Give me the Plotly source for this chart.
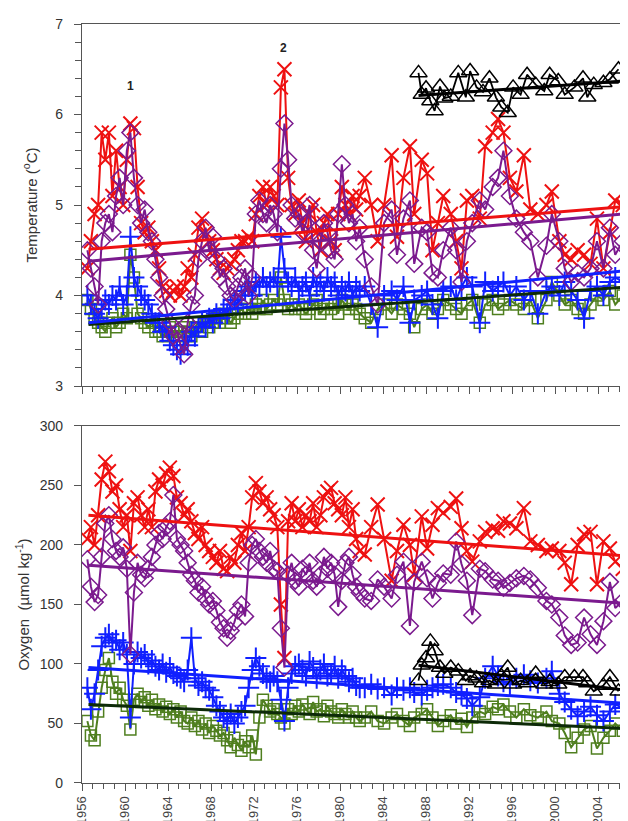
import plotly.graph_objects as go

# ---------------- data ----------------
years_dense = [1956.5, 1956.83,
    1957.17, 1957.5, 1957.83, 1958.17, 1958.5, 1958.83, 1959.17, 1959.5, 1959.83,
    1960.17, 1960.5, 1960.83, 1961.17, 1961.5, 1961.83, 1962.17, 1962.5, 1962.83,
    1963.17, 1963.5, 1963.83, 1964.17, 1964.5, 1964.83, 1965.17, 1965.5, 1965.83,
    1966.17, 1966.5, 1966.83, 1967.17, 1967.5, 1967.83, 1968.17, 1968.5, 1968.83,
    1969.17, 1969.5, 1969.83, 1970.17, 1970.5, 1970.83, 1971.17, 1971.5, 1971.83,
    1972.17, 1972.5, 1972.83, 1973.17, 1973.5, 1973.83, 1974.17, 1974.5, 1974.83,
    1975.17, 1975.5, 1975.83, 1976.17, 1976.5, 1976.83, 1977.17, 1977.5, 1977.83,
    1978.17, 1978.5, 1978.83, 1979.17, 1979.5, 1979.83, 1980.17, 1980.5, 1980.83,
    1981.17, 1981.5, 1981.83]
years_late = [1982.3, 1982.9, 1983.5, 1984.1, 1984.8, 1985.3, 1985.9, 1986.5, 1986.9,
    1987.6, 1988.1, 1988.6, 1989.1, 1989.6, 1990.3, 1990.8, 1991.3, 1991.8, 1992.3,
    1993.0, 1993.5, 1994.2, 1994.7, 1995.2, 1995.8, 1996.4, 1997.1, 1997.7, 1998.4,
    1999.2, 1999.7, 2000.4, 2000.9, 2001.5, 2002.1, 2002.7, 2003.3, 2003.9, 2004.5,
    2005.1, 2005.6, 2006.3]
years = years_dense + years_late

temp_red = [4.3, 4.6,
    4.9, 5.0, 5.8, 5.5, 5.8, 5.1, 5.6, 5.2, 5.0,
    5.5, 5.9, 5.85, 5.2, 4.8, 4.7, 4.75, 4.6, 4.5,
    4.3, 4.1, 4.05, 4.0, 4.05, 4.1, 4.0, 4.1, 4.3,
    4.2, 4.45, 4.75, 4.85, 4.7, 4.6, 4.5, 4.4, 4.3,
    4.25, 4.3, 4.35, 4.4, 4.5, 4.6, 4.6, 4.65, 4.6,
    4.9, 5.1, 5.2, 5.0, 5.2, 5.1, 5.0, 6.3, 6.5,
    5.3, 5.0, 4.9, 5.05, 4.8, 4.6, 4.9, 5.0, 4.7,
    4.5, 4.8, 4.9, 4.6, 4.5, 4.9, 5.2, 5.0, 4.9,
    5.1, 4.95, 5.1,
    5.3, 5.0, 4.6, 5.0, 5.55, 4.65, 5.3, 5.65, 4.9,
    5.5, 5.35, 4.5, 4.8, 5.1, 4.9, 4.6, 4.3, 5.05, 5.1,
    4.85, 5.65, 5.8, 5.95, 5.8, 5.3, 5.15, 5.55, 4.95, 4.9,
    5.0, 5.15, 4.6, 4.45, 4.4, 4.5, 4.45, 4.35, 4.85, 4.3,
    4.7, 5.05, 5.0]
temp_purple = [4.5, 4.3,
    4.1, 3.9, 4.6, 4.8, 4.9, 4.7, 5.1, 5.3, 5.0,
    5.6, 5.8, 5.3, 5.0, 4.8, 4.95, 4.7, 4.6, 4.4,
    4.2, 4.0, 3.85, 3.7, 3.55, 3.6, 3.45, 3.35, 3.7,
    3.9, 4.0, 4.4, 4.6, 4.75, 4.5, 4.65, 4.4, 4.2,
    4.3, 4.1, 4.0, 3.95, 4.1, 4.2, 4.3, 4.0, 4.2,
    4.9, 5.05, 4.9, 4.8, 5.0, 4.9, 4.7, 5.4, 5.9,
    5.5, 5.0, 4.85, 4.9, 4.7, 4.8, 5.0, 4.5, 4.3,
    4.6, 4.8, 4.7, 4.5, 4.4, 4.9, 5.45, 5.0, 4.8,
    4.9, 4.6, 4.75,
    4.4, 4.1, 3.9, 4.8, 4.95, 4.45, 4.85, 5.05, 4.35,
    4.75, 4.7, 4.25, 4.2, 4.5, 4.75, 4.5, 4.15, 4.6, 4.8,
    5.05, 4.95, 5.2, 5.3, 5.6, 5.1, 4.85, 4.7, 4.6, 4.2,
    4.55, 4.9, 4.6, 4.3, 4.15, 4.25, 4.2, 4.3, 4.6, 4.3,
    4.75, 4.45, 4.6]
temp_blue = [4.0, 3.9,
    3.8, 3.75, 3.85, 3.95, 3.9, 4.0, 3.95, 4.1, 3.9,
    4.0, 4.65, 4.2, 4.1, 4.0, 3.95, 3.9, 3.8, 3.7,
    3.7, 3.6, 3.65, 3.5, 3.45, 3.4, 3.35, 3.5, 3.45,
    3.6, 3.55, 3.65, 3.7, 3.65, 3.75, 3.7, 3.8, 3.75,
    3.85, 3.8, 3.9, 3.95, 3.9, 4.0, 4.05, 4.1, 4.0,
    4.15, 4.1, 4.2, 4.1, 4.15, 4.2, 4.1, 4.65, 4.3,
    4.15, 4.1, 4.2, 4.05, 4.1, 4.15, 4.0, 4.2, 4.1,
    4.15, 4.05, 4.2, 4.1, 4.15, 4.0, 4.1, 4.05, 4.15,
    4.0, 4.1, 4.05,
    4.1, 3.9, 3.65, 4.0, 4.05, 3.95, 4.1, 3.7, 3.95,
    4.0, 4.05, 3.9, 3.75, 4.05, 4.1, 3.95, 4.1, 4.2, 4.1,
    3.7, 4.15, 4.05, 4.1, 4.15, 4.0, 4.1, 3.95, 4.05, 3.8,
    4.05, 4.1, 4.0, 4.15, 4.05, 3.95, 3.75, 4.05, 4.1, 4.0,
    4.15, 4.2, 4.15]
temp_green = [3.95, 3.85,
    3.75, 3.7, 3.65, 3.6, 3.7, 3.75, 3.65, 3.7, 3.8,
    3.75, 4.45, 4.2, 3.8, 3.75, 3.7, 3.65, 3.7, 3.6,
    3.6, 3.55, 3.6, 3.65, 3.6, 3.55, 3.6, 3.65, 3.6,
    3.55, 3.65, 3.7, 3.6, 3.7, 3.65, 3.7, 3.75, 3.7,
    3.8, 3.75, 3.7, 3.75, 3.8, 3.85, 3.8, 3.85, 3.8,
    3.9, 3.85, 3.95, 3.85, 3.9, 3.95, 3.9, 4.2, 3.95,
    3.85, 3.9, 3.85, 3.9, 3.85, 3.8, 3.85, 3.9, 3.95,
    3.8, 3.85, 3.9, 3.85, 3.9, 3.8, 3.95, 3.9, 3.85,
    3.9, 3.85, 3.8,
    3.75, 3.7, 3.85, 3.9, 3.8, 3.9, 3.85, 3.8, 3.65,
    3.85, 3.9, 3.8, 3.85, 3.95, 3.9, 3.85, 3.8, 3.9, 3.95,
    3.7, 3.9, 3.95, 3.85, 3.9, 3.95, 3.9, 3.85, 3.95, 3.75,
    3.95, 4.15, 4.0, 3.9, 3.95, 3.85, 3.8, 3.9, 4.0, 3.95,
    4.05, 3.9, 4.0]

oxy_red = [205, 215,
    200, 225, 255, 270, 262, 245, 250, 230, 215,
    225, 195, 235, 240, 225, 215, 230, 215, 245,
    255, 250, 260, 265, 258, 240, 235, 225, 230,
    220, 210, 205, 215, 200, 195, 190, 185, 195,
    180, 178, 190, 185, 200, 210, 195, 215, 240,
    252, 245, 235, 240, 230, 225, 215, 150, 105,
    220, 235, 220, 230, 215, 225, 220, 235, 215,
    225, 240, 245, 248, 235, 230, 225, 240, 215,
    230, 205, 195,
    192, 215, 234, 205, 170, 195, 217, 200, 175,
    224, 197, 217, 231, 227, 232, 239, 214, 195, 186,
    203, 211, 214, 212, 220, 218, 214, 231, 203, 200,
    195, 197, 195, 185, 167, 200, 209, 211, 167, 203,
    197, 186, 180]
oxy_purple = [188, 165,
    152, 158, 190, 218, 225, 205, 195, 190, 198,
    180, 108, 160, 185, 175, 172, 180, 190, 200,
    210, 205, 215, 220, 242, 205, 200, 195, 185,
    175, 170, 160, 165, 155, 150, 153, 145, 135,
    130, 122, 128, 135, 145, 150, 140, 185, 200,
    205, 195, 190, 185, 195, 180, 178, 130, 97,
    175, 185, 170, 165, 180, 175, 185, 170, 165,
    175, 190, 180, 185, 175, 148, 170, 185, 190,
    175, 165, 160,
    155, 153, 171, 165, 155, 175, 186, 132, 169,
    186, 172, 155, 168, 176, 175, 203, 184, 170, 141,
    180, 178, 171, 170, 164, 168, 172, 174, 171, 164,
    153, 150, 139, 124, 116, 118, 139, 125, 116, 136,
    169, 147, 153]
oxy_blue = [80, 62,
    75, 95, 115, 122, 125, 118, 120, 112, 118,
    108, 55, 100, 110, 105, 108, 100, 103, 98,
    95, 100, 93, 97, 92, 90, 88, 85, 95,
    122, 88, 82, 85, 80, 78, 72, 65, 60,
    55, 52, 58, 50, 55, 60, 65, 80, 95,
    105, 98, 92, 88, 85, 90, 85, 70, 52,
    80, 92, 98, 100, 95, 90, 102, 97, 88,
    95, 100, 90, 92, 98, 88, 95, 90, 85,
    88, 82, 80,
    80, 83, 79, 80, 74, 80, 78, 80, 76,
    74, 78, 80, 82, 83, 80, 76, 74, 71, 65,
    72, 88, 98, 90, 85, 83, 88, 91, 86, 84,
    88, 94, 75, 68, 62, 56, 60, 64, 57, 52,
    60, 66, 63]
oxy_green = [52, 40,
    36, 60, 80, 95, 105, 85, 75, 80, 70,
    65, 45, 70, 75, 68, 72, 65, 70, 62,
    66, 60, 64, 58, 62, 55, 60, 52, 50,
    55, 48, 52, 45, 50, 42, 48, 44, 40,
    42, 36, 30, 38, 32, 27, 35, 30, 40,
    24, 55, 70, 65, 60, 62, 58, 55, 50,
    62, 58, 65, 60, 66, 62, 58, 68, 60,
    62, 56, 65, 60, 58, 55, 62, 58, 55,
    60, 55, 52,
    55, 60, 52, 50, 55, 58, 52, 48, 55,
    58, 62, 55, 48, 52, 57, 50, 54, 47, 55,
    60, 58, 64, 62, 66, 60, 55, 62, 57, 55,
    60, 52, 50, 42, 30, 38, 45, 48, 29, 38,
    44, 50, 44]

years_black = [1987.3, 1987.6, 1988.0, 1988.4, 1988.8, 1989.3, 1989.7, 1990.3, 1991.0,
    1991.7, 1992.1, 1992.7, 1993.3, 1993.9, 1994.5, 1995.0, 1995.6, 1996.1, 1996.8,
    1997.4, 1998.2, 1999.0, 1999.5, 2000.3, 2000.9, 2001.8, 2002.6, 2003.0, 2003.6,
    2004.5, 2005.1, 2005.9]
temp_black = [6.46, 6.22, 6.29, 6.15, 6.04, 6.31, 6.18, 6.2, 6.46, 6.19, 6.48, 6.3,
    6.25, 6.4, 6.19, 6.08, 6.02, 6.3, 6.22, 6.44, 6.33, 6.26, 6.44, 6.37, 6.22, 6.3,
    6.4, 6.19, 6.33, 6.35, 6.39, 6.5]
oxy_black = [86, 99, 105, 119, 111, 97, 92, 97, 94, 86, 90, 88, 84, 86, 83, 90, 97,
    83, 86, 84, 92, 83, 85, 83, 89, 89, 89, 84, 77, 82, 89, 77]

# trend lines (start, end)
trend_years = [1956.6, 2006.3]
trend_years_black = [1987.3, 2006.5]
trend_temp_red = [4.51, 4.98]
trend_temp_purple = [4.38, 4.90]
trend_temp_blue = [3.70, 4.27]
trend_temp_green = [3.68, 4.09]
trend_temp_black = [6.21, 6.37]
trend_oxy_red = [225, 191]
trend_oxy_purple = [183, 151]
trend_oxy_blue = [97, 67]
trend_oxy_green = [66, 46]
trend_oxy_black = [99, 78]

x_tick_years = [1956, 1960, 1964, 1968, 1972, 1976, 1980, 1984, 1988, 1992, 1996, 2000, 2004]

# ---------------- styles ----------------
RED = "#ee1111"
PURPLE = "#7b1a8e"
BLUE = "#1020ff"
GREEN = "#4f7f1f"
BLACK = "#000000"
GTREND = "#0d2a08"

fig = go.Figure()

def add_series(x, y, color, symbol, size, yaxis, lw=2.0, mlw=1.5):
    fig.add_trace(go.Scatter(
        x=x, y=y, mode="lines+markers", xaxis="x" if yaxis == "y" else "x2", yaxis=yaxis,
        line=dict(color=color, width=lw),
        marker=dict(symbol=symbol, size=size, color=color,
                    line=dict(color=color, width=mlw)),
        showlegend=False, hoverinfo="skip"))

def add_trend(x, y, color, yaxis):
    fig.add_trace(go.Scatter(
        x=x, y=y, mode="lines", xaxis="x" if yaxis == "y" else "x2", yaxis=yaxis,
        line=dict(color=color, width=3), showlegend=False, hoverinfo="skip"))

for yax, vals, black_vals, trends, black_trend in [
    ("y", [temp_green, temp_blue, temp_red, temp_purple], temp_black,
     [trend_temp_green, trend_temp_blue, trend_temp_red, trend_temp_purple], trend_temp_black),
    ("y2", [oxy_green, oxy_blue, oxy_red, oxy_purple], oxy_black,
     [trend_oxy_green, trend_oxy_blue, trend_oxy_red, trend_oxy_purple], trend_oxy_black),
]:
    add_series(years, vals[0], GREEN, "square-open", 11, yax)
    add_series(years, vals[1], BLUE, "cross-thin-open", 15, yax, mlw=2)
    add_series(years, vals[2], RED, "x-thin-open", 14, yax, mlw=2)
    add_series(years, vals[3], PURPLE, "diamond-open", 13, yax)
    add_series(years_black, black_vals, BLACK, "triangle-up-open", 15, yax, lw=1.8)
    add_trend(trend_years, trends[0], GTREND, yax)
    add_trend(trend_years, trends[1], BLUE, yax)
    add_trend(trend_years, trends[2], RED, yax)
    add_trend(trend_years, trends[3], PURPLE, yax)
    add_trend(trend_years_black, black_trend, BLACK, yax)

FONT = "Liberation Sans, Arial, sans-serif"
axis_common = dict(showgrid=False, zeroline=False, linecolor="#555", linewidth=1.2,
                   ticks="outside", tickcolor="#555", tickwidth=1.2,
                   tickfont=dict(family=FONT, size=14, color="#333"))

xaxis_common = dict(axis_common, range=[1956, 2006.6], tickmode="array",
                    tickvals=x_tick_years, ticklen=7, mirror=True,
                    minor=dict(dtick=1, tick0=1956, ticklen=5, ticks="outside",
                               tickcolor="#555", tickwidth=1))

fig.update_layout(
    width=628, height=821,
    margin=dict(l=74, r=2, t=16, b=46),
    paper_bgcolor="white", plot_bgcolor="white",
    xaxis=dict(xaxis_common, domain=[0, 1], anchor="y", showticklabels=False),
    xaxis2=dict(xaxis_common, domain=[0, 1], anchor="y2", matches="x",
                ticktext=[str(v) for v in x_tick_years], tickangle=-90,
                tickfont=dict(family=FONT, size=13, color="#444")),
    yaxis=dict(axis_common, domain=[0.523, 1.0], range=[3, 7], dtick=1, ticklen=7,
               mirror="ticks", ticklabelstandoff=8,
               minor=dict(dtick=0.2, ticklen=6, ticks="outside", tickcolor="#555", tickwidth=1),
               title=dict(text="Temperature (<sup>o</sup>C)", standoff=14,
                          font=dict(family=FONT, size=15, color="#333"))),
    yaxis2=dict(axis_common, domain=[0, 0.4704], range=[0, 300], dtick=50, ticklen=7,
                mirror="ticks", ticklabelstandoff=8,
                title=dict(text="Oxygen  (µmol kg<sup>-1</sup>)", standoff=6,
                           font=dict(family=FONT, size=15, color="#333"))),
)

fig.add_annotation(x=1960.5, y=6.31, xref="x", yref="y", text="<b>1</b>", showarrow=False,
                   font=dict(family=FONT, size=12, color="#222"))
fig.add_annotation(x=1974.7, y=6.73, xref="x", yref="y", text="<b>2</b>", showarrow=False,
                   font=dict(family=FONT, size=12, color="#222"))

fig.write_html("out.html")
